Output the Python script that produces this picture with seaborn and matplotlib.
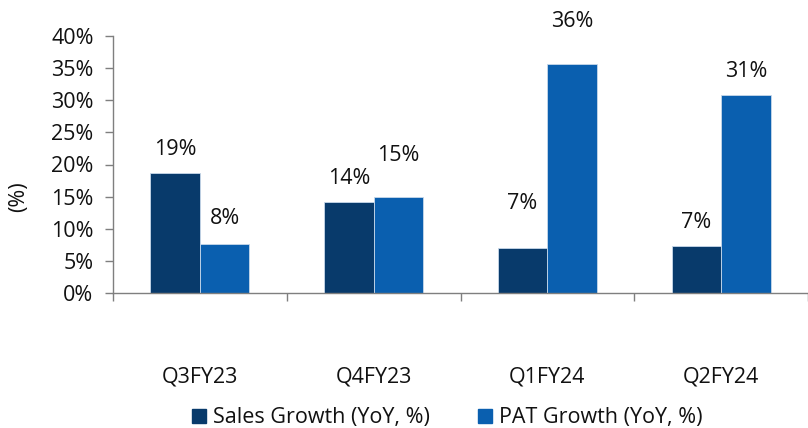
import matplotlib
matplotlib.use("Agg")
import matplotlib.pyplot as plt
import seaborn as sns
import pandas as pd
from matplotlib.lines import Line2D
from matplotlib.ticker import FixedLocator

quarters = ["Q3FY23", "Q4FY23", "Q1FY24", "Q2FY24"]
sales_growth = [18.6, 14.1, 7.0, 7.3]
pat_growth = [7.6, 15.0, 35.6, 30.8]
series_names = ["Sales Growth (YoY, %)", "PAT Growth (YoY, %)"]
y_ticks = [0, 5, 10, 15, 20, 25, 30, 35, 40]

colors = ["#083A6B", "#0A5FAF"]
# label offsets above bar tops (pixels), per series/quarter
label_offsets = [[24, 24, 45, 24], [26, 41, 43, 24]]

sns.set_theme(style="white")
plt.rcParams["font.family"] = ["Open Sans", "DejaVu Sans"]
FS = 15.5
TXT = "#111111"

df = pd.DataFrame({
    "quarter": quarters * 2,
    "value": sales_growth + pat_growth,
    "series": [series_names[0]] * 4 + [series_names[1]] * 4,
})

fig = plt.figure(figsize=(8.08, 4.28), dpi=100)
ax = fig.add_axes([113 / 808, (428 - 293) / 428, 1 - 113 / 808, (293 - 36) / 428])

sns.barplot(data=df, x="quarter", y="value", hue="series", order=quarters,
            hue_order=series_names, palette=colors, width=0.57, ax=ax,
            edgecolor="#c8d8ea", linewidth=0.6, legend=False, saturation=1)

ax.set_xlim(-0.5, 3.5)
ax.set_ylim(0, 40)
ax.set_yticks(y_ticks)
ax.set_yticklabels([f"{t}%" for t in y_ticks], fontsize=FS, color=TXT)
ax.set_xticks(range(len(quarters)))
ax.set_xticklabels(quarters, fontsize=FS, color=TXT)
ax.xaxis.set_minor_locator(FixedLocator([i - 0.5 for i in range(len(quarters) + 1)]))
ax.tick_params(axis="x", which="major", length=0, pad=53)
ax.tick_params(axis="x", which="minor", length=6, width=1, color="#7f7f7f", direction="out", bottom=True)
ax.tick_params(axis="y", which="major", length=6, width=1, color="#7f7f7f", direction="out", left=True, pad=8)

for s in ["top", "right"]:
    ax.spines[s].set_visible(False)
for s in ["left", "bottom"]:
    ax.spines[s].set_color("#7f7f7f")
    ax.spines[s].set_linewidth(1.0)

ax.set_xlabel("")
ax.set_ylabel("(%)", fontsize=FS, color=TXT)
ax.yaxis.set_label_coords(-0.12, 0.375)

# data labels
for si, cont in enumerate(ax.containers):
    for qi, bar in enumerate(cont):
        v = bar.get_height()
        ax.annotate(f"{v:.0f}%", (bar.get_x() + bar.get_width() / 2, v),
                    xytext=(0, label_offsets[si][qi]), textcoords="offset pixels",
                    ha="center", va="center", fontsize=FS, color=TXT, annotation_clip=False)

handles = [Line2D([], [], marker="s", linestyle="none", markersize=10,
                  markerfacecolor=c, markeredgecolor=c) for c in colors]
fig.legend(handles, series_names, loc="center", bbox_to_anchor=(447 / 808, 1 - 418 / 428),
           ncol=2, frameon=False, fontsize=FS, handlelength=0.7, handletextpad=0.3,
           columnspacing=2.2, labelcolor=TXT)

fig.savefig("out.png", dpi=100)
